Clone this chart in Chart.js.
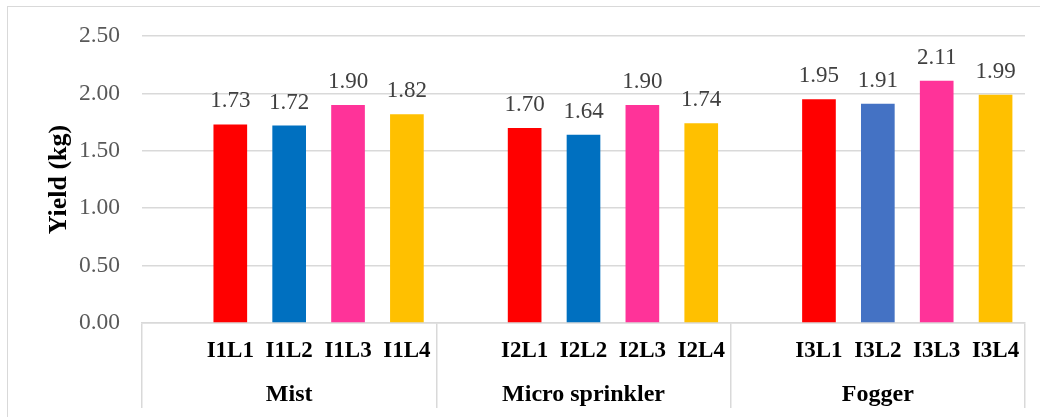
<!DOCTYPE html>
<html>
<head>
<meta charset="utf-8">
<title>Yield by irrigation system</title>
<script src="https://cdn.jsdelivr.net/npm/chart.js@4/dist/chart.umd.min.js"></script>
<style>
  html, body { margin: 0; padding: 0; background: #ffffff; }
  #wrap { position: relative; width: 1040px; height: 417px; overflow: hidden; }
  #frame { position: absolute; left: 7px; top: 6px; width: 1100px; height: 500px;
           border-top: 1.5px solid #d9d9d9; border-left: 1.5px solid #d9d9d9; box-sizing: border-box; }
  #chart { position: absolute; left: 0; top: 0; }
</style>
</head>
<body>
<div id="wrap">
  <div id="frame"></div>
  <canvas id="chart" width="1040" height="417"></canvas>
</div>
<script>
// Irrigation systems and the four treatment levels within each
const groups = ['Mist', 'Micro sprinkler', 'Fogger'];
const mistLabels = ['I1L1', 'I1L2', 'I1L3', 'I1L4'];
const microLabels = ['I2L1', 'I2L2', 'I2L3', 'I2L4'];
const foggerLabels = ['I3L1', 'I3L2', 'I3L3', 'I3L4'];

// Yield (kg)
const mistYield = [1.73, 1.72, 1.90, 1.82];
const microYield = [1.70, 1.64, 1.90, 1.74];
const foggerYield = [1.95, 1.91, 2.11, 1.99];

// Y-axis ticks
const yTicks = [0, 0.5, 1.0, 1.5, 2.0, 2.5];

// Bar colours per treatment level
const mistColors = ['#FF0000', '#0070C0', '#FF3399', '#FFC000'];
const microColors = ['#FF0000', '#0070C0', '#FF3399', '#FFC000'];
const foggerColors = ['#FF0000', '#4472C4', '#FF3399', '#FFC000'];

// Each group begins with one empty slot, then its four bars
const groupLabels = [mistLabels, microLabels, foggerLabels];
const groupYield = [mistYield, microYield, foggerYield];
const groupColors = [mistColors, microColors, foggerColors];
const slotsPerGroup = mistLabels.length + 1;

const categories = [];
const values = [];
const colors = [];
groupLabels.forEach((lbls, g) => {
  categories.push('');
  values.push(null);
  colors.push('rgba(0,0,0,0)');
  lbls.forEach((l, i) => {
    categories.push(l);
    values.push(groupYield[g][i]);
    colors.push(groupColors[g][i]);
  });
});

const SERIF = "'Liberation Serif', 'Times New Roman', serif";
const GRID = '#d9d9d9';

// Value labels drawn above each bar
const valueLabels = {
  id: 'valueLabels',
  afterDatasetsDraw(chart) {
    const ctx = chart.ctx;
    const meta = chart.getDatasetMeta(0);
    ctx.save();
    ctx.font = '23px ' + SERIF;
    ctx.fillStyle = '#404040';
    ctx.textAlign = 'center';
    ctx.textBaseline = 'alphabetic';
    meta.data.forEach((bar, i) => {
      const v = chart.data.datasets[0].data[i];
      if (v === null || v === undefined) return;
      ctx.fillText(v.toFixed(2), bar.x, bar.y - 17);
    });
    ctx.restore();
  }
};

new Chart(document.getElementById('chart'), {
  type: 'bar',
  data: {
    labels: categories,
    datasets: [{
      data: values,
      backgroundColor: colors,
      borderWidth: 0,
      categoryPercentage: 1.0,
      barPercentage: 0.572
    }]
  },
  options: {
    responsive: false,
    animation: false,
    layout: { padding: { left: 0, right: 15, top: 35, bottom: 0 } },
    plugins: {
      legend: { display: false },
      tooltip: { enabled: false }
    },
    scales: {
      y: {
        min: yTicks[0],
        max: yTicks[yTicks.length - 1],
        afterBuildTicks(scale) {
          scale.ticks = yTicks.map(v => ({ value: v }));
        },
        afterFit(scale) { scale.width = 142; },
        grid: { color: GRID, lineWidth: 1.5, drawTicks: false },
        border: { display: false },
        ticks: {
          padding: 22,
          color: '#595959',
          font: { family: SERIF, size: 23.5 },
          callback: v => Number(v).toFixed(2)
        },
        title: {
          display: true,
          text: 'Yield (kg)',
          color: '#000000',
          font: { family: SERIF, size: 26, weight: 'bold' },
          padding: { top: 44, bottom: 0 }
        }
      },
      x: {
        type: 'category',
        weight: 0,
        offset: true,
        afterFit(scale) { scale.height = 42; },
        grid: {
          offset: true,
          drawOnChartArea: false,
          drawTicks: true,
          tickLength: 85,
          lineWidth: 1.5,
          color: (c) => (c.index === undefined || c.index % slotsPerGroup === 0) ? GRID : 'rgba(0,0,0,0)'
        },
        border: { display: true, color: GRID, width: 1.5 },
        ticks: {
          autoSkip: false,
          maxRotation: 0,
          minRotation: 0,
          padding: -71,
          color: '#000000',
          font: { family: SERIF, size: 23, weight: 'bold' }
        }
      },
      x2: {
        type: 'category',
        position: 'bottom',
        weight: 1,
        labels: groups,
        offset: true,
        afterFit(scale) { scale.height = 52; },
        grid: { display: false, drawTicks: false },
        border: { display: false },
        ticks: {
          autoSkip: false,
          maxRotation: 0,
          minRotation: 0,
          padding: 15,
          color: '#000000',
          font: { family: SERIF, size: 24, weight: 'bold' }
        }
      }
    }
  },
  plugins: [valueLabels]
});
</script>
</body>
</html>
